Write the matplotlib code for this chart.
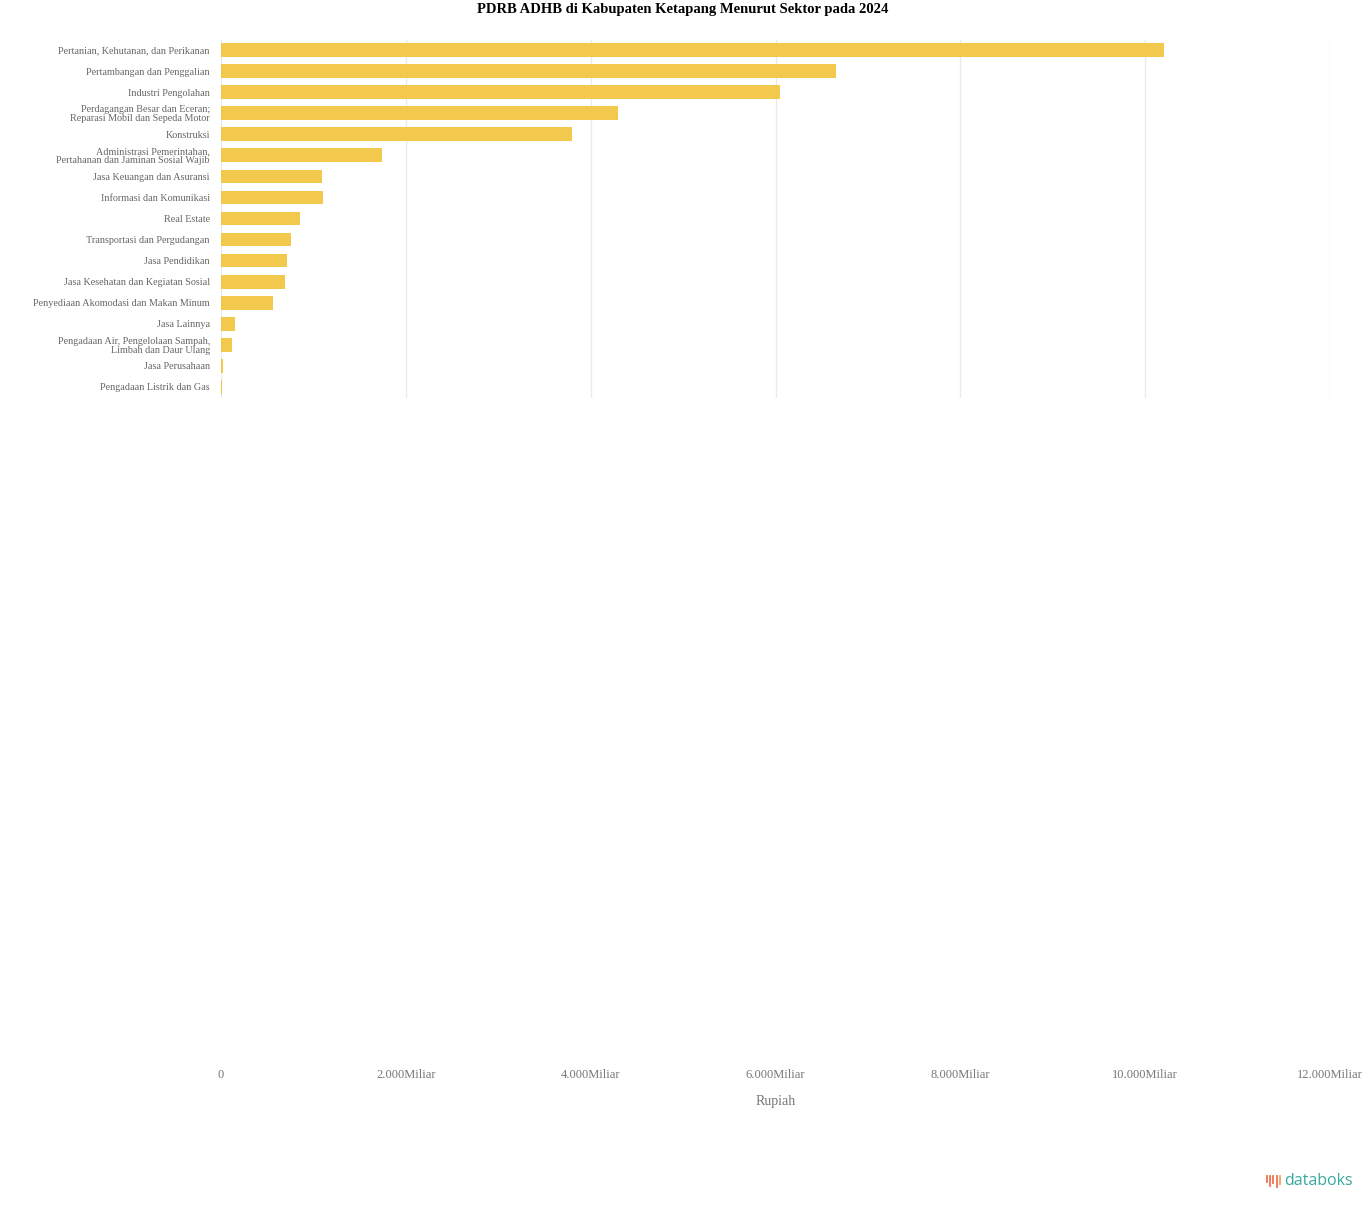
import textwrap
import matplotlib
matplotlib.use("Agg")
import matplotlib.pyplot as plt
from matplotlib.ticker import FuncFormatter

sectors = [
    "Pertanian, Kehutanan, dan Perikanan",
    "Pertambangan dan Penggalian",
    "Industri Pengolahan",
    "Perdagangan Besar dan Eceran; Reparasi Mobil dan Sepeda Motor",
    "Konstruksi",
    "Administrasi Pemerintahan, Pertahanan dan Jaminan Sosial Wajib",
    "Jasa Keuangan dan Asuransi",
    "Informasi dan Komunikasi",
    "Real Estate",
    "Transportasi dan Pergudangan",
    "Jasa Pendidikan",
    "Jasa Kesehatan dan Kegiatan Sosial",
    "Penyediaan Akomodasi dan Makan Minum",
    "Jasa Lainnya",
    "Pengadaan Air, Pengelolaan Sampah, Limbah dan Daur Ulang",
    "Jasa Perusahaan",
    "Pengadaan Listrik dan Gas",
]
values = [10205, 6650, 6050, 4300, 3800, 1740, 1090, 1100, 850, 760,
          710, 690, 560, 150, 120, 25, 10]
xticks = [0, 2000, 4000, 6000, 8000, 10000, 12000]

serif = ["Liberation Serif", "DejaVu Serif"]
W, H = 1366, 1209
fig = plt.figure(figsize=(W / 100, H / 100), dpi=100)
fig.patch.set_facecolor("white")

left, right = 221 / W, 1330 / W
top_px, bot_px = 39.5, 397.5
ax = fig.add_axes([left, 1 - bot_px / H, right - left, (bot_px - top_px) / H])
ypos = list(range(len(sectors)))
ax.barh(ypos, values, height=0.65, color="#F2C94C")
ax.set_ylim(len(sectors) - 0.5, -0.5)
ax.set_xlim(0, 12000)
ax.set_xticks(xticks)
ax.tick_params(axis="x", length=0, labelbottom=False)
ax.grid(axis="x", color="#ebebeb", linewidth=1)
ax.set_axisbelow(True)
for s in ax.spines.values():
    s.set_visible(False)
ax.set_yticks(ypos)
ax.set_yticklabels([textwrap.fill(s, 36) for s in sectors], fontsize=7.3,
                   color="#666666", family=serif, linespacing=0.95)
ax.tick_params(axis="y", length=0, pad=8)

# bottom x axis (tick labels only)
axb = fig.add_axes([left, 1 - 1058 / H, right - left, 0.0001])
axb.set_xlim(0, 12000)
axb.set_xticks(xticks)
axb.xaxis.set_major_formatter(FuncFormatter(
    lambda v, p: "0" if v == 0 else f"{int(v):,}".replace(",", ".") + "Miliar"))
axb.tick_params(axis="x", length=0, labelsize=9, labelcolor="#777777", pad=8)
for lab in axb.get_xticklabels():
    lab.set_family(serif)
axb.set_yticks([])
for s in axb.spines.values():
    s.set_visible(False)
axb.set_xlabel("Rupiah", fontsize=10, color="#777777", family=serif, labelpad=10)

fig.text(0.5, 1 - 9 / H, "PDRB ADHB di Kabupaten Ketapang Menurut Sektor pada 2024",
         ha="center", va="center", fontsize=10.5, fontweight="bold",
         family=serif, color="black")

# databoks logo text
fig.text(1284 / W, 1 - 1181 / H, "databoks", ha="left", va="center",
         fontsize=11.5, color="#3aa9a0", family=["Open Sans", "DejaVu Sans"])
for i, (h, c) in enumerate([(6, "#f0714e"), (10, "#f0714e"), (7, "#f0714e"), (11, "#f0714e"), (8, "#f5a15e")]):
    x = (1267 + i * 3.2) / W
    fig.add_artist(plt.Line2D([x, x], [1 - (1176) / H, 1 - (1176 + h) / H],
                              color=c, linewidth=1.3, transform=fig.transFigure))

fig.savefig("out.png", dpi=100, facecolor="white")
